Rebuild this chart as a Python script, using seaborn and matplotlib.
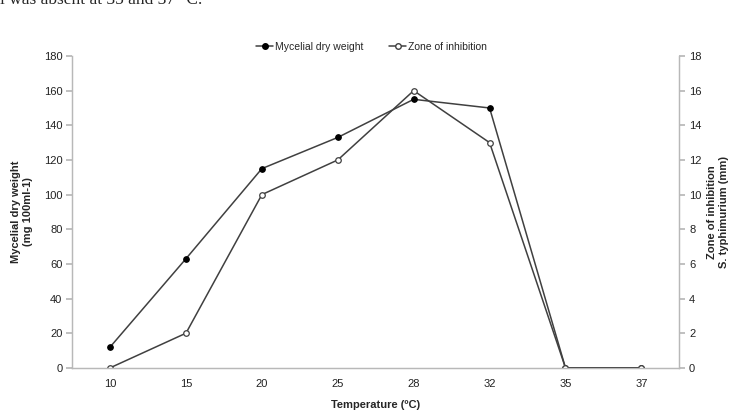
import seaborn as sns
import matplotlib.pyplot as plt
from matplotlib.lines import Line2D

# data
temperatures = ['10', '15', '20', '25', '28', '32', '35', '37']
mycelial_weight = [12, 63, 115, 133, 155, 150, 0, 0]
inhibition_zone = [0, 2, 10, 12, 16, 13, 0, 0]

sns.set_theme(style='white')
plt.rcParams['font.family'] = ['Liberation Sans', 'DejaVu Sans']

fig = plt.figure(figsize=(7.36, 4.18), dpi=100)
ax = fig.add_axes([0.098, 0.12, 0.825, 0.746])
ax2 = ax.twinx()

line_col = '#404040'
axis_col = '#b8b8b8'

sns.pointplot(x=temperatures, y=mycelial_weight, ax=ax, color=line_col,
              markers='o', markersize=4, linewidth=1.1, errorbar=None,
              markerfacecolor='black', markeredgecolor='black')
sns.pointplot(x=temperatures, y=inhibition_zone, ax=ax2, color=line_col,
              markers='o', markersize=4, linewidth=1.1, errorbar=None,
              markerfacecolor='white', markeredgecolor=line_col, markeredgewidth=0.9)

ax.set_xlim(-0.5, 7.5)
ax.set_ylim(0, 180)
ax2.set_ylim(0, 18)
ax.set_yticks(range(0, 181, 20))
ax2.set_yticks(range(0, 19, 2))

ax.set_xticks(range(len(temperatures)))
ax.set_xticklabels(temperatures)
ax.set_xticks([i - 0.5 for i in range(len(temperatures) + 1)], minor=True)
ax.tick_params(axis='x', which='major', length=0, labelsize=8, pad=8, colors='#222222')
ax.tick_params(axis='x', which='minor', length=4, color=axis_col, direction='inout')
ax.tick_params(axis='y', length=4, color=axis_col, labelsize=8, labelcolor='#222222', pad=3)
ax2.tick_params(axis='y', length=4, color=axis_col, labelsize=8, labelcolor='#222222', pad=3)

for a in (ax, ax2):
    a.spines['top'].set_visible(False)
    for s in ('left', 'right', 'bottom'):
        a.spines[s].set_color(axis_col)
        a.spines[s].set_linewidth(0.9)
    a.grid(False)

ax.set_xlabel('Temperature (ºC)', fontsize=8, fontweight='bold', labelpad=8)
ax.set_ylabel('Mycelial dry weight\n(mg 100ml-1)', fontsize=8, fontweight='bold', labelpad=8)
ax2.set_ylabel('Zone of inhibition\nS. typhimurium (mm)', fontsize=8, fontweight='bold',
               rotation=90, labelpad=4)

handles = [
    Line2D([], [], color=line_col, lw=1.1, marker='o', ms=4, mfc='black', mec='black'),
    Line2D([], [], color=line_col, lw=1.1, marker='o', ms=4, mfc='white', mec=line_col),
]
fig.legend(handles, ['Mycelial dry weight', 'Zone of inhibition'], loc='center',
           bbox_to_anchor=(0.505, 0.888), ncol=2, frameon=False, fontsize=7.5,
           handlelength=1.6, handletextpad=0.2, columnspacing=2.5)

# line of body text above the chart, cut off by the crop as in the reference
fig.text(0.0, 1.0, 'l was absent at 35 and 37 °C.', family=['Liberation Serif', 'DejaVu Serif'],
         fontsize=12.5, ha='left', va='center')

fig.savefig('out.png', dpi=100)
